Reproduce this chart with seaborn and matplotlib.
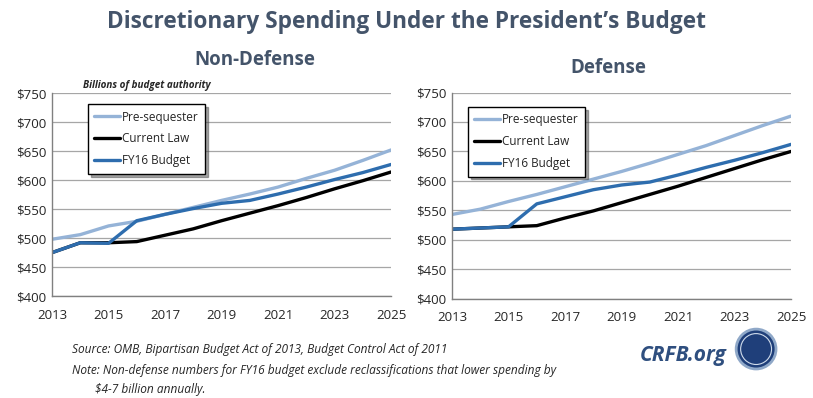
import numpy as np
import pandas as pd
import matplotlib
matplotlib.use("Agg")
import matplotlib.pyplot as plt
from matplotlib.patches import Ellipse
import seaborn as sns

years = list(range(2013, 2026))
series_names = ["Pre-sequester", "Current Law", "FY16 Budget"]

# Non-defense, billions of budget authority
nd_pre = [498, 506, 521, 529, 541, 553, 565, 576, 588, 603, 617, 634, 652]
nd_current = [475, 492, 492, 494, 505, 516, 530, 543, 556, 570, 585, 599, 614]
nd_fy16 = [475, 492, 491, 530, 541, 551, 560, 565, 576, 588, 601, 613, 627]

# Defense
d_pre = [543, 552, 565, 577, 590, 603, 616, 630, 645, 660, 677, 694, 710]
d_current = [518, 520, 522, 524, 537, 549, 563, 577, 591, 606, 621, 636, 650]
d_fy16 = [518, 520, 522, 561, 573, 585, 593, 598, 610, 623, 635, 648, 662]

palette = {"Pre-sequester": "#95B3D7", "Current Law": "#000000", "FY16 Budget": "#2E6DAE"}
title_color = "#44546A"

sns.set_style("white")
plt.rcParams["font.family"] = ["Open Sans", "DejaVu Sans"]


def to_long(pre, cur, fy):
    frames = []
    for name, vals in zip(series_names, [pre, cur, fy]):
        frames.append(pd.DataFrame({"year": years, "value": vals, "series": name}))
    return pd.concat(frames, ignore_index=True)


fig = plt.figure(figsize=(8.13, 3.98), dpi=100)
ax1 = fig.add_axes([0.064, 0.256, 0.417, 0.51])
ax2 = fig.add_axes([0.556, 0.2495, 0.417, 0.518])

for ax, data in [(ax1, to_long(nd_pre, nd_current, nd_fy16)),
                 (ax2, to_long(d_pre, d_current, d_fy16))]:
    sns.lineplot(data=data, x="year", y="value", hue="series", palette=palette,
                 linewidth=2.4, ax=ax)
    ax.set_xlim(2013, 2025)
    ax.set_ylim(400, 750)
    ax.set_xticks(range(2013, 2026, 2))
    ax.set_yticks(range(400, 751, 50))
    ax.set_yticklabels(["$%d" % v for v in range(400, 751, 50)])
    ax.grid(axis="y", color="#A6A6A6", linewidth=0.9)
    ax.set_axisbelow(True)
    for s in ["top", "right"]:
        ax.spines[s].set_visible(False)
    for s in ["left", "bottom"]:
        ax.spines[s].set_color("#808080")
        ax.spines[s].set_linewidth(1)
    ax.tick_params(axis="both", labelsize=9.5, length=0)
    ax.tick_params(axis="y", pad=4)
    ax.tick_params(axis="x", pad=9)
    ax.set_xlabel("")
    ax.set_ylabel("")
    ax.get_legend().remove()

handles, labels = ax1.get_legend_handles_labels()
for ax, anchor in [(ax1, (0.106, 0.946)), (ax2, (0.047, 0.93))]:
    leg = ax.legend(handles, labels, loc="upper left", bbox_to_anchor=anchor,
                    frameon=True, fancybox=False, shadow=True, fontsize=8.5,
                    handlelength=2.2, handletextpad=0.1, labelspacing=0.75,
                    borderpad=0.55, borderaxespad=0)
    leg.get_frame().set_edgecolor("black")
    leg.get_frame().set_linewidth(1)
    for line in leg.get_lines():
        line.set_linewidth(2.4)

fig.text(0.5, 0.945, "Discretionary Spending Under the President\u2019s Budget",
         ha="center", va="center", fontsize=16.3, fontweight="bold", color=title_color)
fig.text(0.314, 0.848, "Non-Defense", ha="center", va="center", fontsize=13.5,
         fontweight="bold", color=title_color)
fig.text(0.748, 0.828, "Defense", ha="center", va="center", fontsize=13.5,
         fontweight="bold", color=title_color)
fig.text(0.102, 0.786, "Billions of budget authority", ha="left", va="center",
         fontsize=7.1, fontstyle="italic", fontweight="bold")

fig.text(0.0886, 0.121, "Source: OMB, Bipartisan Budget Act of 2013, Budget Control Act of 2011",
         ha="left", va="center", fontsize=8.6, fontstyle="italic")
fig.text(0.0886, 0.068, "Note: Non-defense numbers for FY16 budget exclude reclassifications that lower spending by",
         ha="left", va="center", fontsize=8.6, fontstyle="italic")
fig.text(0.117, 0.022, "$4-7 billion annually.", ha="left", va="center",
         fontsize=8.6, fontstyle="italic")
fig.text(0.893, 0.108, "CRFB.org", ha="right", va="center", fontsize=15,
         fontweight="bold", fontstyle="italic", color="#2F4F7F")

# round seal next to the logo text
seal = Ellipse((0.930, 0.123), 0.049, 0.049 * 8.13 / 3.98, transform=fig.transFigure,
               facecolor="#1F3F7A", edgecolor="#8FA8C8", linewidth=2)
fig.patches.append(seal)
inner = Ellipse((0.930, 0.123), 0.038, 0.038 * 8.13 / 3.98, transform=fig.transFigure,
                facecolor="none", edgecolor="#D0DCEB", linewidth=0.8)
fig.patches.append(inner)

fig.savefig("out.png", dpi=100)
